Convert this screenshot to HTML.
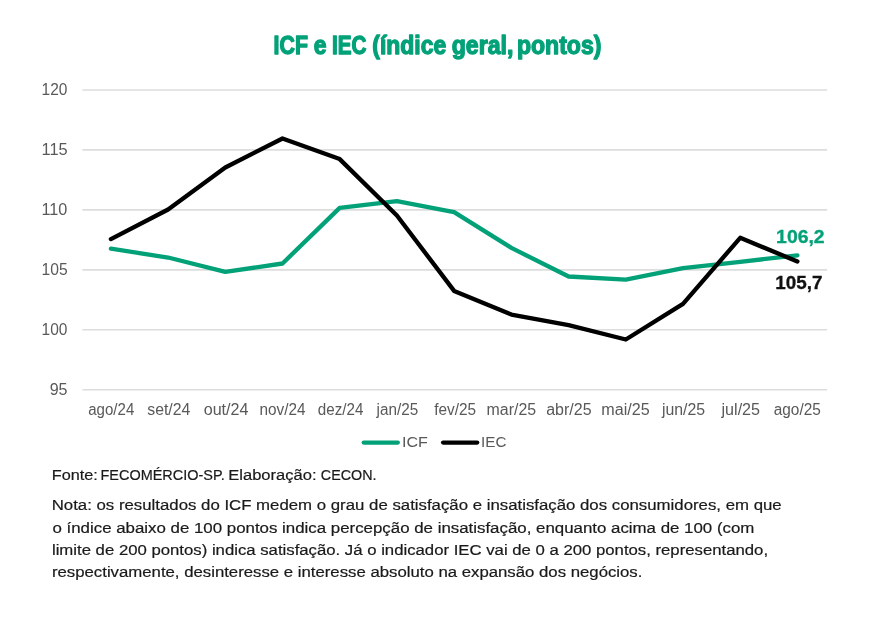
<!DOCTYPE html>
<html lang="pt-BR"><head><meta charset="utf-8"><title>ICF e IEC</title>
<style>
html,body{margin:0;padding:0;background:#fff}
svg{display:block;filter:blur(0.3px)}
text{font-family:"Liberation Sans",sans-serif}
.ax{font-size:15.6px;fill:#595959}
.lg{font-size:14.9px;fill:#595959}
.ft{font-size:15.1px;fill:#1a1a1a;stroke:#1a1a1a;stroke-width:0.2px}
.ti{font-size:25px;font-weight:bold;fill:#03A178;stroke:#03A178;stroke-width:1.3px;stroke-linejoin:round}
</style></head><body>
<svg width="886" height="622" viewBox="0 0 886 622">
<rect width="886" height="622" fill="#fff"/>
<text class="ti" y="53.9"><tspan x="273.62" textLength="34.33" lengthAdjust="spacingAndGlyphs">ICF</tspan> <tspan x="313.63" textLength="12.79" lengthAdjust="spacingAndGlyphs">e</tspan> <tspan x="332.06" textLength="34.49" lengthAdjust="spacingAndGlyphs">IEC</tspan> <tspan x="372.27" textLength="73.95" lengthAdjust="spacingAndGlyphs">(índice</tspan> <tspan x="451.73" textLength="61.69" lengthAdjust="spacingAndGlyphs">geral,</tspan> <tspan x="516.91" textLength="84.47" lengthAdjust="spacingAndGlyphs">pontos)</tspan></text>
<line x1="82.4" x2="827.1" y1="89.95" y2="89.95" stroke="#dddddd" stroke-width="1.6"/>
<text class="ax" x="41.53" y="94.9" textLength="25.85" lengthAdjust="spacingAndGlyphs">120</text>
<line x1="82.4" x2="827.1" y1="149.91" y2="149.91" stroke="#dddddd" stroke-width="1.6"/>
<text class="ax" x="41.47" y="154.8" textLength="26.19" lengthAdjust="spacingAndGlyphs">115</text>
<line x1="82.4" x2="827.1" y1="209.87" y2="209.87" stroke="#dddddd" stroke-width="1.6"/>
<text class="ax" x="41.48" y="214.8" textLength="25.92" lengthAdjust="spacingAndGlyphs">110</text>
<line x1="82.4" x2="827.1" y1="269.83" y2="269.83" stroke="#dddddd" stroke-width="1.6"/>
<text class="ax" x="41.52" y="274.7" textLength="26.11" lengthAdjust="spacingAndGlyphs">105</text>
<line x1="82.4" x2="827.1" y1="329.79" y2="329.79" stroke="#dddddd" stroke-width="1.6"/>
<text class="ax" x="41.53" y="334.7" textLength="25.85" lengthAdjust="spacingAndGlyphs">100</text>
<line x1="82.4" x2="827.1" y1="389.75" y2="389.75" stroke="#dddddd" stroke-width="1.6"/>
<text class="ax" x="49.65" y="394.6" textLength="17.91" lengthAdjust="spacingAndGlyphs">95</text>
<text class="ax" x="88.23" y="415.2" textLength="46.05" lengthAdjust="spacingAndGlyphs">ago/24</text>
<text class="ax" x="147.25" y="415.2" textLength="43.14" lengthAdjust="spacingAndGlyphs">set/24</text>
<text class="ax" x="203.70" y="415.2" textLength="44.80" lengthAdjust="spacingAndGlyphs">out/24</text>
<text class="ax" x="259.44" y="415.2" textLength="46.04" lengthAdjust="spacingAndGlyphs">nov/24</text>
<text class="ax" x="317.83" y="415.2" textLength="45.55" lengthAdjust="spacingAndGlyphs">dez/24</text>
<text class="ax" x="376.58" y="415.2" textLength="41.64" lengthAdjust="spacingAndGlyphs">jan/25</text>
<text class="ax" x="434.20" y="415.2" textLength="41.82" lengthAdjust="spacingAndGlyphs">fev/25</text>
<text class="ax" x="486.61" y="415.2" textLength="49.54" lengthAdjust="spacingAndGlyphs">mar/25</text>
<text class="ax" x="546.20" y="415.2" textLength="45.35" lengthAdjust="spacingAndGlyphs">abr/25</text>
<text class="ax" x="601.39" y="415.2" textLength="48.36" lengthAdjust="spacingAndGlyphs">mai/25</text>
<text class="ax" x="661.90" y="415.2" textLength="43.25" lengthAdjust="spacingAndGlyphs">jun/25</text>
<text class="ax" x="721.50" y="415.2" textLength="38.55" lengthAdjust="spacingAndGlyphs">jul/25</text>
<text class="ax" x="773.72" y="415.2" textLength="47.11" lengthAdjust="spacingAndGlyphs">ago/25</text>
<polyline points="110.9,248.7 168.1,257.5 225.3,271.9 282.5,263.5 339.7,207.9 396.9,201.1 454.1,212.1 511.4,247.9 568.6,276.5 625.8,279.7 683.0,268.1 740.2,261.8 797.4,255.3" fill="none" stroke="#03A178" stroke-width="4.3" stroke-linecap="round" stroke-linejoin="round"/>
<polyline points="110.9,239.1 168.1,209.5 225.3,167.5 282.5,138.5 339.7,159.1 396.9,215.5 454.1,290.9 511.4,314.6 568.6,325.1 625.8,339.5 683.0,303.9 740.2,237.8 797.4,261.5" fill="none" stroke="#000" stroke-width="4.3" stroke-linecap="round" stroke-linejoin="round"/>
<text x="776.14" y="242.6" font-size="17.6" font-weight="bold" fill="#03A178" stroke="#03A178" stroke-width="0.3" textLength="48.49" lengthAdjust="spacingAndGlyphs">106,2</text>
<text x="775.27" y="288.7" font-size="17.6" font-weight="bold" fill="#111" stroke="#111" stroke-width="0.3" textLength="47.14" lengthAdjust="spacingAndGlyphs">105,7</text>
<line x1="363.7" x2="397.8" y1="442.6" y2="442.6" stroke="#03A178" stroke-width="4.3" stroke-linecap="round"/>
<text class="lg" x="402.04" y="447.3" textLength="25.88" lengthAdjust="spacingAndGlyphs">ICF</text>
<line x1="443.1" x2="477.2" y1="442.6" y2="442.6" stroke="#000" stroke-width="4.3" stroke-linecap="round"/>
<text class="lg" x="481.11" y="447.3" textLength="25.31" lengthAdjust="spacingAndGlyphs">IEC</text>
<text class="ft" y="479.7"><tspan x="51.83" textLength="46.04" lengthAdjust="spacingAndGlyphs">Fonte:</tspan> <tspan x="100.47" textLength="124.24" lengthAdjust="spacingAndGlyphs">FECOMÉRCIO-SP.</tspan> <tspan x="228.31" textLength="88.18" lengthAdjust="spacingAndGlyphs">Elaboração:</tspan> <tspan x="320.83" textLength="55.66" lengthAdjust="spacingAndGlyphs">CECON.</tspan></text>
<text class="ft" x="51.69" y="510.3" textLength="729.99" lengthAdjust="spacingAndGlyphs">Nota: os resultados do ICF medem o grau de satisfação e insatisfação dos consumidores, em que</text>
<text class="ft" x="52.47" y="532.7" textLength="701.90" lengthAdjust="spacingAndGlyphs">o índice abaixo de 100 pontos indica percepção de insatisfação, enquanto acima de 100 (com</text>
<text class="ft" x="51.95" y="555.1" textLength="716.10" lengthAdjust="spacingAndGlyphs">limite de 200 pontos) indica satisfação. Já o indicador IEC vai de 0 a 200 pontos, representando,</text>
<text class="ft" x="51.95" y="577.3" textLength="590.46" lengthAdjust="spacingAndGlyphs">respectivamente, desinteresse e interesse absoluto na expansão dos negócios.</text>
</svg></body></html>
